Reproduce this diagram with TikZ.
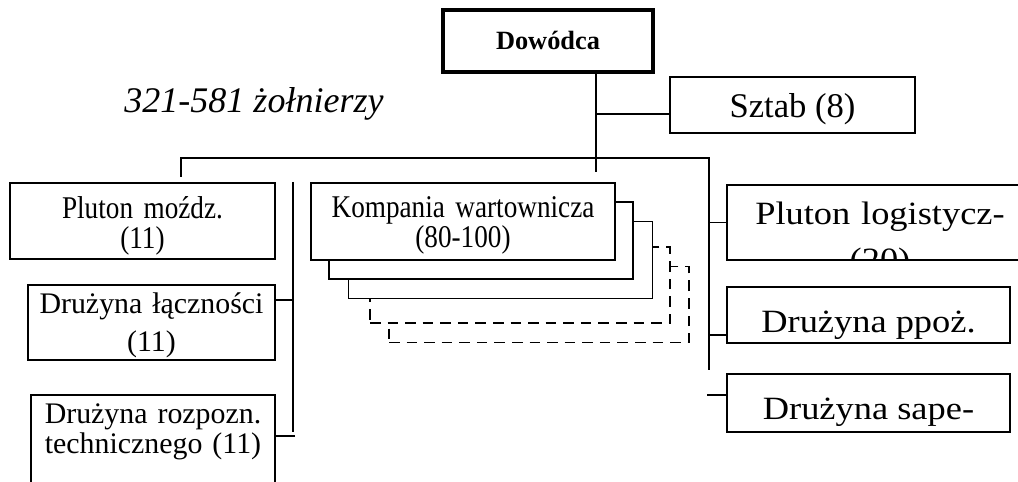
\documentclass[tikz,border=0pt]{standalone}
\usepackage{fontspec}
\setmainfont{Liberation Serif}
\newfontfamily\narrowserif[FakeStretch=0.86]{Liberation Serif}
\newfontfamily\wideserif[FakeStretch=1.12]{Liberation Serif}
\usetikzlibrary{calc}

\tikzset{
	cmdbox/.style={draw, line width=2pt, minimum width=4.2cm, minimum height=1.24cm, inner sep=0pt, font=\bfseries\fontsize{15}{18}\selectfont},
	unitbox/.style={draw, line width=1pt, fill=white, inner sep=0pt, align=center, font=\fontsize{17}{17}\selectfont},
	bigbox/.style={draw, line width=1pt, fill=white, inner sep=0pt, align=center, font=\wideserif\fontsize{18.5}{22}\selectfont},
	ghostbox/.style={draw, line width=1pt, dash pattern=on 6pt off 4pt, fill=white, minimum width=6cm, minimum height=1.52cm},
	link/.style={line width=1pt}
}

\begin{document}
\begin{tikzpicture}[x=0.02cm, y=-0.02cm]
		\useasboundingbox (0,0) rectangle (1018,482);
		\clip (0,0) rectangle (1018,482);

		% top
		\node(dowodca) [cmdbox, text height=11.2pt, text depth=1pt] at (548,41) {Dowódca};
		\node(strength) [anchor=base, font=\itshape\fontsize{20.5}{24}\selectfont] at (254,113) {321-581 żołnierzy};
		\node(sztab) [bigbox, font=\fontsize{19.7}{22}\selectfont, text height=19.2pt, text depth=4.4pt, minimum width=4.9cm, minimum height=1.12cm] at (792.5,105) {Sztab (8)};

		% left column
		\node(mozdz) [unitbox, font=\narrowserif\fontsize{18}{17}\selectfont, text width=4.8cm, text height=18.6pt, text depth=20.9pt, minimum width=5.3cm, minimum height=1.52cm] at (142.5,221) {Pluton moźdz.\\(11)};
		\node(lacz) [unitbox, font=\fontsize{17}{22}\selectfont, text width=4.6cm, text height=14.7pt, text depth=25.5pt, minimum width=4.94cm, minimum height=1.5cm] at (151.5,322.5) {Drużyna łączności\\(11)};
		\node(rozpozn) [unitbox, font=\fontsize{17}{17.5}\selectfont, text width=4.8cm, text height=14.8pt, text depth=42.6pt, minimum width=4.88cm, minimum height=2.1cm] at (153,447.5) {Drużyna rozpozn.\\technicznego (11)};

		% guard company stack
		\node(komp5) [ghostbox] at (539,304.5) {};
		\node(komp4) [ghostbox] at (520,285) {};
		\node(komp3) [unitbox, minimum width=6.08cm, minimum height=1.54cm] at (500.5,260) {};
		\node(komp2) [unitbox, minimum width=6.08cm, minimum height=1.54cm] at (481,240.5) {};
		\node(komp1) [unitbox, font=\narrowserif\fontsize{18}{17}\selectfont, text width=5.8cm, text height=17pt, text depth=21pt, minimum width=6.08cm, minimum height=1.54cm] at (463,221.5) {Kompania wartownicza\\(80-100)};

		% right column
		\node(logist) [bigbox, minimum width=6.06cm, minimum height=1.5cm] at (878.5,222.5) {};
		\begin{scope}
		\clip ($(logist.south west)+(0,-2)$) rectangle (logist.north east);
		\node(logisttext) [anchor=base, text width=5.8cm, align=center, font=\wideserif\fontsize{18.5}{26}\selectfont] at (880,225) {Pluton logistycz-\\(20)};
		\end{scope}
		\node(ppoz) [bigbox, text height=24.9pt, text depth=4.5pt, minimum width=5.66cm, minimum height=1.12cm] at (868.5,315) {Drużyna ppoż.};
		\node(sape) [bigbox, text height=23.8pt, text depth=4.5pt, minimum width=5.66cm, minimum height=1.16cm] at (868.5,403) {Drużyna sape-};

		% connectors
		\coordinate (trunk) at (596,172);
		\coordinate (hq) at (596,114);
		\coordinate (busL) at (181,158);
		\coordinate (busR) at (709,158);
		\coordinate (mozdzjoin) at (181,177);
		\coordinate (rend) at (709,370);
		\coordinate (ppozjoin) at (709,335);
		\coordinate (sapejoin) at (707,395);
		\coordinate (lspine) at (293,182);
		\coordinate (lend) at (293,432);
		\coordinate (laczjoin) at (293,300);
		\coordinate (rozpjoin) at (295,436);

		\draw[link] (dowodca.south -| trunk) -- (trunk);
		\draw[link] (hq) -- (hq -| sztab.west);
		\draw[link] (mozdzjoin) -- (busL) -- (busR) -- (rend);
		\draw[link] (busR |- logist.west) -- (logist.west);
		\draw[link] (ppozjoin) -- (ppozjoin -| ppoz.west);
		\draw[link] (sapejoin) -- (sapejoin -| sape.west);
		\draw[link] (lspine) -- (lend);
		\draw[link] (laczjoin) -- (laczjoin -| lacz.east);
		\draw[link] (rozpjoin) -- (rozpjoin -| rozpozn.east);
\end{tikzpicture}
\end{document}
